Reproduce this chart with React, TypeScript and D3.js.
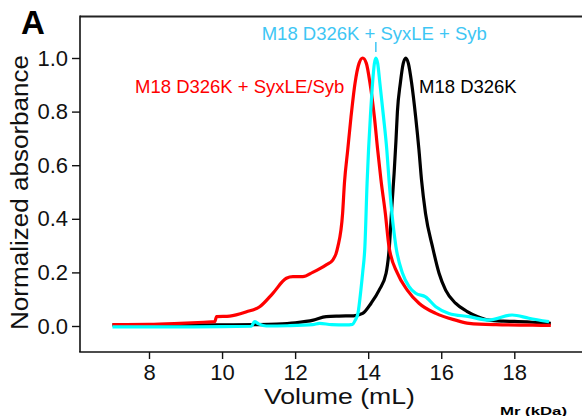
import React, { useEffect, useRef } from "react";
import * as d3 from "d3";

// elution volume (mL) and normalized absorbance
const blackVol = [7.0, 8.0, 9.0, 10.0, 11.0, 11.5, 12.0, 12.5, 12.85, 13.2, 13.6, 13.85, 14.08, 14.3, 14.49, 14.58, 14.65, 14.71, 14.76, 14.8, 14.88, 14.96, 15.03, 15.1, 15.19, 15.3, 15.39, 15.46, 15.57, 15.76, 15.94, 16.12, 16.39, 16.7, 17.0, 17.3, 17.7, 18.0, 18.5, 19.0];
const blackAbs = [0.004, 0.004, 0.004, 0.004, 0.005, 0.007, 0.012, 0.022, 0.035, 0.037, 0.038, 0.047, 0.085, 0.134, 0.197, 0.296, 0.45, 0.57, 0.69, 0.8, 0.906, 0.98, 1.0, 0.98, 0.906, 0.78, 0.657, 0.545, 0.42, 0.296, 0.197, 0.134, 0.085, 0.055, 0.035, 0.022, 0.018, 0.017, 0.014, 0.01];

const redVol = [7.0, 8.0, 8.85, 9.5, 9.8, 9.85, 10.21, 10.67, 11.03, 11.39, 11.76, 11.94, 12.21, 12.48, 12.85, 13.03, 13.12, 13.17, 13.3, 13.35, 13.44, 13.53, 13.64, 13.75, 13.85, 13.95, 14.05, 14.17, 14.26, 14.35, 14.47, 14.57, 14.8, 15.07, 15.39, 15.85, 16.39, 16.76, 17.5, 18.5, 19.0];
const redAbs = [0.005, 0.006, 0.01, 0.014, 0.016, 0.035, 0.037, 0.053, 0.072, 0.122, 0.178, 0.184, 0.184, 0.2, 0.228, 0.246, 0.27, 0.296, 0.42, 0.533, 0.657, 0.78, 0.906, 0.98, 1.0, 0.98, 0.906, 0.78, 0.657, 0.545, 0.42, 0.296, 0.197, 0.134, 0.085, 0.047, 0.022, 0.01, 0.005, 0.003, 0.002];

const cyanVol = [7.0, 8.0, 9.0, 10.0, 10.8, 10.89, 11.0, 11.21, 11.8, 12.48, 12.67, 13.0, 13.39, 13.57, 13.64, 13.72, 13.8, 13.85, 13.91, 13.97, 14.01, 14.06, 14.12, 14.17, 14.21, 14.26, 14.32, 14.42, 14.51, 14.57, 14.65, 14.76, 14.94, 15.12, 15.3, 15.57, 15.85, 16.21, 16.76, 17.3, 17.94, 18.4, 18.95];
const cyanAbs = [-0.003, -0.003, -0.003, -0.002, -0.001, 0.016, 0.008, 0.0, 0.001, 0.005, 0.01, 0.005, 0.004, 0.006, 0.02, 0.047, 0.134, 0.2, 0.296, 0.533, 0.657, 0.78, 0.906, 0.98, 1.0, 0.98, 0.906, 0.78, 0.657, 0.545, 0.42, 0.296, 0.197, 0.147, 0.122, 0.109, 0.072, 0.047, 0.035, 0.022, 0.041, 0.029, 0.016];

const xTicks = [8, 10, 12, 14, 16, 18];
const yTicks = [0, 0.2, 0.4, 0.6, 0.8, 1.0];

const seriesNames = ["M18 D326K", "M18 D326K + SyxLE/Syb", "M18 D326K + SyxLE + Syb"];
const seriesColors = ["#000000", "#ff0000", "#00ffff"];
const labelColors = ["#000000", "#ff0000", "#3ec6f4"];

const W = 582, H = 416;
const font = "'Liberation Sans', Arial, Helvetica, sans-serif";

export default function App() {
  const ref = useRef<SVGSVGElement>(null);

  useEffect(() => {
    const svg = d3.select(ref.current);
    svg.selectAll("*").remove();

    const x = d3.scaleLinear().domain([8, 18]).range([149, 514.3]);
    const y = d3.scaleLinear().domain([0, 1]).range([326, 58]);

    // frame: top, left, bottom
    svg.append("line").attr("x1", 80).attr("x2", W).attr("y1", 16.5).attr("y2", 16.5)
      .attr("stroke", "#222").attr("stroke-width", 2);
    svg.append("line").attr("x1", 80).attr("x2", 80).attr("y1", 15.5).attr("y2", 352)
      .attr("stroke", "#111").attr("stroke-width", 1.6);
    svg.append("line").attr("x1", 79.2).attr("x2", W).attr("y1", 352).attr("y2", 352)
      .attr("stroke", "#111").attr("stroke-width", 1.6);

    const yAxis = svg.append("g").attr("transform", "translate(80,0)")
      .call(d3.axisLeft(y).tickValues(yTicks).tickFormat(d3.format(".1f")).tickSize(8).tickPadding(4));
    const xAxis = svg.append("g").attr("transform", "translate(0,352)")
      .call(d3.axisBottom(x).tickValues(xTicks).tickFormat(d3.format("d")).tickSize(7));

    [yAxis, xAxis].forEach(g => {
      g.select(".domain").remove();
      g.selectAll("line").attr("stroke", "#111").attr("stroke-width", 1.4);
      g.selectAll("text").attr("font-family", font).attr("font-size", 22).attr("fill", "#111");
    });
    xAxis.selectAll("text").attr("y", 27.5).attr("dy", null);

    const line = d3.line<[number, number]>()
      .x(d => x(d[0]))
      .y(d => y(d[1]))
      .curve(d3.curveMonotoneX);

    const series = [
      blackVol.map((v, i) => [v, blackAbs[i]] as [number, number]),
      redVol.map((v, i) => [v, redAbs[i]] as [number, number]),
      cyanVol.map((v, i) => [v, cyanAbs[i]] as [number, number]),
    ];

    svg.append("g").selectAll("path")
      .data(series)
      .join("path")
      .attr("d", d => line(d))
      .attr("fill", "none")
      .attr("stroke", (_, i) => seriesColors[i])
      .attr("stroke-width", 3.2)
      .attr("stroke-linejoin", "round");

    // series labels
    const labelPos = [[419, 92.7], [135, 92.7], [261.7, 40]];
    svg.append("g").selectAll("text")
      .data(seriesNames)
      .join("text")
      .attr("x", (_, i) => labelPos[i][0])
      .attr("y", (_, i) => labelPos[i][1])
      .attr("font-family", font)
      .attr("font-size", 18.5)
      .attr("fill", (_, i) => labelColors[i])
      .text(d => d);

    svg.append("line").attr("x1", x(14.21)).attr("x2", x(14.21)).attr("y1", 42).attr("y2", 52)
      .attr("stroke", labelColors[2]).attr("stroke-width", 1.5);

    // axis titles
    svg.append("text").attr("x", 339.5).attr("y", 404).attr("text-anchor", "middle")
      .attr("font-family", font).attr("font-size", 22).attr("fill", "#111")
      .attr("textLength", 151).attr("lengthAdjust", "spacingAndGlyphs")
      .text("Volume (mL)");
    svg.append("text").attr("transform", "translate(28,192.5) rotate(-90)").attr("text-anchor", "middle")
      .attr("font-family", font).attr("font-size", 23).attr("fill", "#111")
      .attr("textLength", 275).attr("lengthAdjust", "spacingAndGlyphs")
      .text("Normalized absorbance");

    // panel letter
    svg.append("text").attr("x", 21).attr("y", 34).attr("font-family", font)
      .attr("font-size", 33).attr("font-weight", "bold").text("A");

    // label of the panel below, peeking in at the bottom edge
    svg.append("text").attr("x", 500).attr("y", 415).attr("font-family", font)
      .attr("font-size", 10).attr("font-weight", "bold")
      .attr("textLength", 67).attr("lengthAdjust", "spacingAndGlyphs")
      .text("Mr (kDa)");
  }, []);

  return (
    <div style={{ position: "fixed", left: 0, top: 0, width: W, height: H, overflow: "hidden", background: "#fff" }}>
      <svg ref={ref} width={W} height={H} />
    </div>
  );
}
